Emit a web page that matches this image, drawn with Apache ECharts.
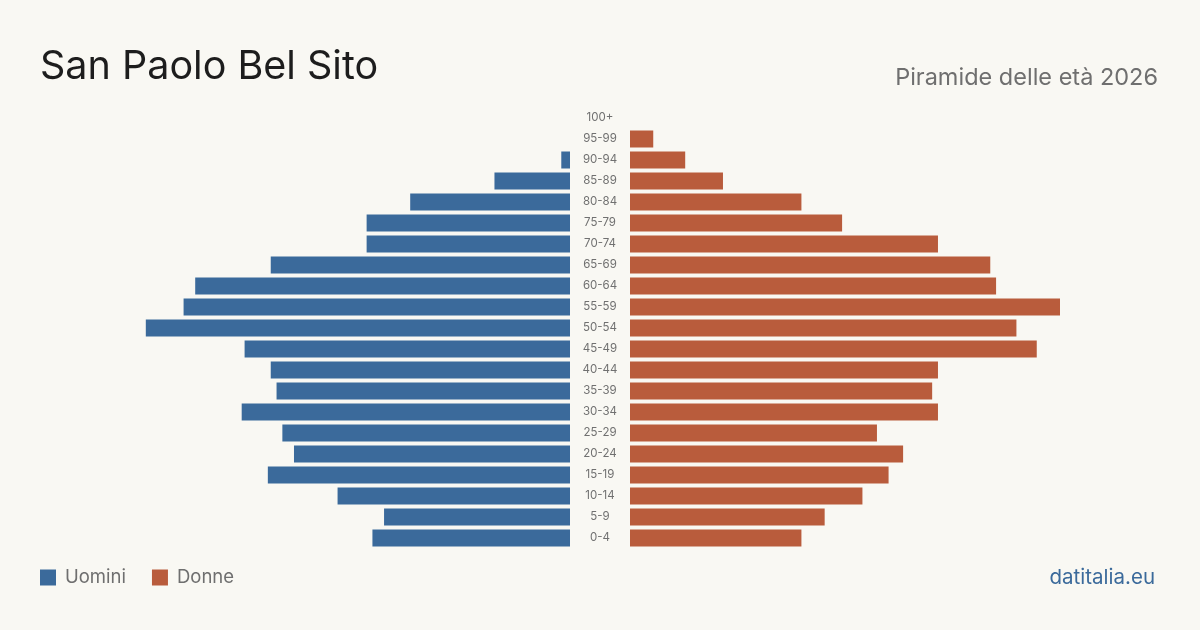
<!DOCTYPE html>
<html>
<head>
<meta charset="utf-8">
<script src="https://cdn.jsdelivr.net/npm/echarts@6/dist/echarts.min.js"></script>
<style>
html,body{margin:0;padding:0;background:#f9f8f3;}
#c{width:1200px;height:630px;}
</style>
</head>
<body>
<div id="c"></div>
<script>
const ageGroups = ['0-4','5-9','10-14','15-19','20-24','25-29','30-34','35-39','40-44','45-49','50-54','55-59','60-64','65-69','70-74','75-79','80-84','85-89','90-94','95-99','100+'];
const men   = [68,64,80,104,95,99,113,101,103,112,146,133,129,103,70,70,55,26,3,0,0];
const women = [59,67,80,89,94,85,106,104,106,140,133,148,126,124,106,73,59,32,19,8,0];
const titleText = 'San Paolo Bel Sito';
const subtitleText = 'Piramide delle età 2026';
const sourceText = 'datitalia.eu';

const BLUE = '#3b6a9b';
const ORANGE = '#b95c3c';
const MAXV = 148;
const FONT = 'Inter, "Noto Sans", sans-serif';

const chart = echarts.init(document.getElementById('c'));
chart.setOption({
  backgroundColor: '#f9f8f3',
  animation: false,
  textStyle: { fontFamily: FONT },
  title: [
    { text: titleText, left: 35, top: 42, textStyle: { fontFamily: FONT, fontSize: 39.5, fontWeight: 'normal', color: '#1d1d1d' } },
    { text: subtitleText, right: 37, top: 61, textStyle: { fontFamily: FONT, fontSize: 23.5, fontWeight: 'normal', color: '#6f6f6f' } },
    { text: sourceText, right: 40, top: 562, textStyle: { fontFamily: FONT, fontSize: 20.5, fontWeight: 'normal', color: '#3b6a9b' } }
  ],
  legend: {
    left: 35, top: 563,
    icon: 'rect', itemWidth: 16, itemHeight: 16, itemGap: 26,
    textStyle: { fontFamily: FONT, fontSize: 18.5, color: '#6f6f6f', padding: [0,0,0,4] },
    data: ['Uomini', 'Donne']
  },
  grid: [
    { left: 570 - 430, width: 430, top: 107.5, height: 441, containLabel: false },
    { left: 630, width: 430, top: 107.5, height: 441, containLabel: false }
  ],
  xAxis: [
    { gridIndex: 0, type: 'value', min: 0, max: MAXV, inverse: true, show: false },
    { gridIndex: 1, type: 'value', min: 0, max: MAXV, show: false }
  ],
  yAxis: [
    { gridIndex: 0, type: 'category', data: ageGroups, show: false },
    { gridIndex: 1, type: 'category', data: ageGroups,
      axisLine: { show: false }, axisTick: { show: false },
      axisLabel: { show: true, margin: 30, align: 'center', fontSize: 11.5, color: '#707070', fontFamily: FONT } }
  ],
  series: [
    { name: 'Uomini', type: 'bar', xAxisIndex: 0, yAxisIndex: 0, data: men, barCategoryGap: '19%', itemStyle: { color: BLUE } },
    { name: 'Donne', type: 'bar', xAxisIndex: 1, yAxisIndex: 1, data: women, barCategoryGap: '19%', itemStyle: { color: ORANGE } }
  ]
});
</script>
</body>
</html>
